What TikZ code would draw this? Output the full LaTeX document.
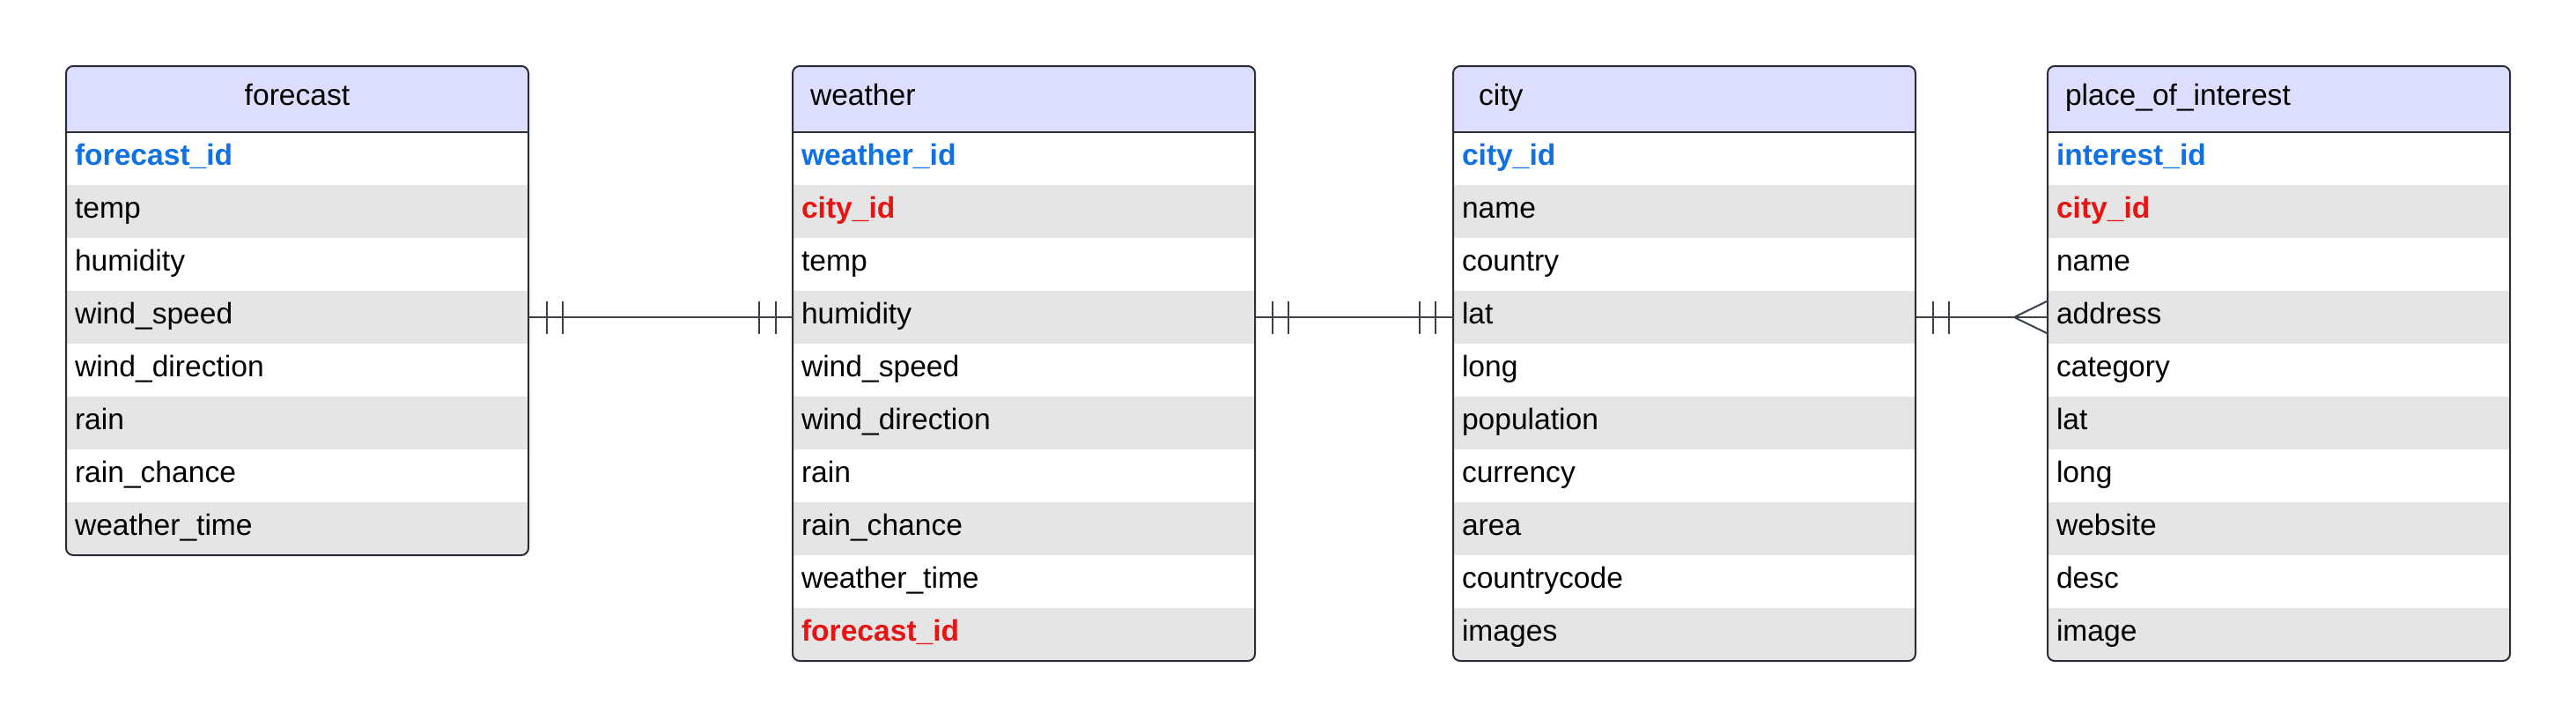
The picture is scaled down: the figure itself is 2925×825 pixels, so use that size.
\documentclass[tikz,border=0pt]{standalone}
\usepackage{fontspec}
\setmainfont{Liberation Sans}
\usetikzlibrary{calc}
\definecolor{hdrfill}{RGB}{221,222,255}
\definecolor{rowgray}{RGB}{229,229,229}
\definecolor{pkblue}{RGB}{16,113,229}
\definecolor{fkred}{RGB}{232,19,19}
\definecolor{edgec}{RGB}{43,46,54}
\definecolor{connc}{RGB}{58,63,74}
\newcommand{\cellfont}{\fontsize{16.8pt}{19pt}\selectfont}
\tikzset{
  cell/.style={minimum width=262.5pt, minimum height=30pt, inner ysep=0pt, outer sep=0pt,
    inner xsep=5pt, text width=252.5pt, align=left, text height=11pt, text depth=4pt,
    font=\cellfont, text=black},
  row1/.style={fill=white},
  row0/.style={fill=rowgray},
  pk/.style={text=pkblue, font=\cellfont\bfseries},
  fk/.style={text=fkred, font=\cellfont\bfseries},
  plain/.style={},
  hdr/.style={cell, fill=hdrfill, minimum height=37.5pt},
  hdrc/.style={align=center},
  hdrl/.style={inner xsep=10pt, text width=242.5pt},
  hdrcity/.style={inner xsep=14.5pt, text width=233.5pt},
  border/.style={draw=edgec, line width=1pt, rounded corners=4pt},
  sepline/.style={draw=edgec, line width=1pt},
  conn/.style={draw=connc, line width=1pt},
}
\newcommand{\erdtable}[6]{%
  \begin{scope}
    \clip[rounded corners=4pt] (#2,75) rectangle (#2+525,{150+60*#3});
    \node[hdr,#4] (#1-h) at (#2+262.5,112.5) {#5};
    \foreach \t/\s [count=\i] in {#6} {
      \pgfmathtruncatemacro\p{mod(\i,2)}
      \node[cell,row\p,\s] (#1-\i) at (#2+262.5,{120+60*\i}) {\t};
    }
  \end{scope}
  \draw[sepline] (#1-h.south west) -- (#1-h.south east);
  \draw[border] (#2,75) rectangle (#2+525,{150+60*#3});
}
\begin{document}
\begin{tikzpicture}[x=0.5pt,y=-0.5pt]
\useasboundingbox (0,0) rectangle (2925,825);
\erdtable{f}{75}{8}{hdrc}{forecast}{forecast\_id/pk, temp/plain, humidity/plain, wind\_speed/plain, wind\_direction/plain, rain/plain, rain\_chance/plain, weather\_time/plain}
\erdtable{w}{900}{10}{hdrl}{weather}{weather\_id/pk, city\_id/fk, temp/plain, humidity/plain, wind\_speed/plain, wind\_direction/plain, rain/plain, rain\_chance/plain, weather\_time/plain, forecast\_id/fk}
\erdtable{c}{1650}{10}{hdrcity}{city}{city\_id/pk, name/plain, country/plain, lat/plain, long/plain, population/plain, currency/plain, area/plain, countrycode/plain, images/plain}
\erdtable{p}{2325}{10}{hdrl}{place\_of\_interest}{interest\_id/pk, city\_id/fk, name/plain, address/plain, category/plain, lat/plain, long/plain, website/plain, desc/plain, image/plain}
% forecast -- weather
\draw[conn] (f-4.east) -- (w-4.west);
\draw[conn] ($(f-4.east)+(21,-18.5)$) -- ++(0,37);
\draw[conn] ($(f-4.east)+(39,-18.5)$) -- ++(0,37);
\draw[conn] ($(w-4.west)+(-19,-18.5)$) -- ++(0,37);
\draw[conn] ($(w-4.west)+(-38,-18.5)$) -- ++(0,37);
% weather -- city
\draw[conn] (w-4.east) -- (c-4.west);
\draw[conn] ($(w-4.east)+(20,-18.5)$) -- ++(0,37);
\draw[conn] ($(w-4.east)+(38,-18.5)$) -- ++(0,37);
\draw[conn] ($(c-4.west)+(-20,-18.5)$) -- ++(0,37);
\draw[conn] ($(c-4.west)+(-38,-18.5)$) -- ++(0,37);
% city -- place_of_interest
\draw[conn] (c-4.east) -- (p-4.west);
\draw[conn] ($(c-4.east)+(20,-18.5)$) -- ++(0,37);
\draw[conn] ($(c-4.east)+(38,-18.5)$) -- ++(0,37);
\draw[conn] ($(p-4.west)+(0,-18.5)$) -- ($(p-4.west)+(-38,0)$) -- ($(p-4.west)+(0,18.5)$);
\end{tikzpicture}
\end{document}
